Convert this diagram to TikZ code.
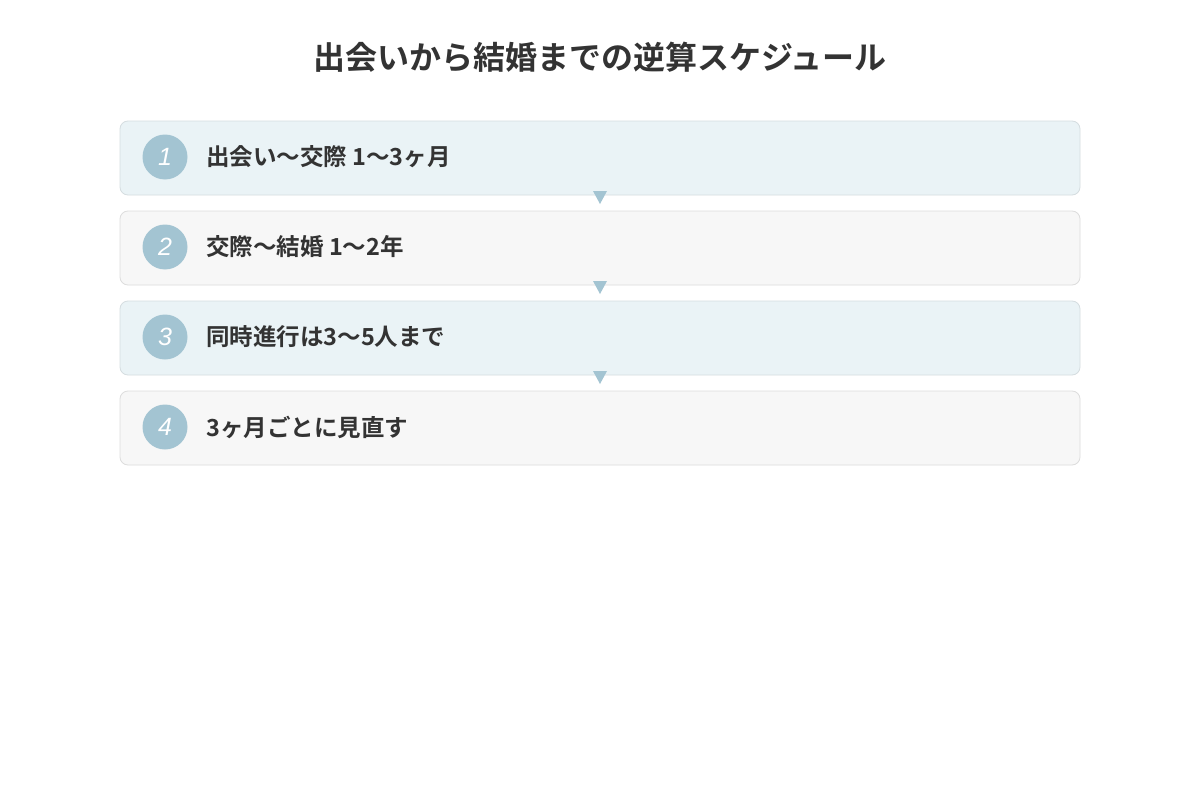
\documentclass[tikz,border=0pt]{standalone}
\usepackage{fontspec}
\setmainfont{Noto Sans CJK JP}
\newfontfamily\jpbold{Noto Sans CJK JP}[BoldFont={* Bold}]
\newfontfamily\numfont{Liberation Sans}
\definecolor{txt}{HTML}{333333}
\definecolor{accent}{HTML}{A3C4D2}
\definecolor{fillA}{HTML}{EAF3F6}
\definecolor{fillB}{HTML}{F7F7F7}
\definecolor{lineA}{HTML}{D5DDE0}
\definecolor{lineB}{HTML}{DDDDDD}
\begin{document}
\begin{tikzpicture}[x=1pt,y=-1pt,
  stepbox/.style={rounded corners=8pt, line width=0.8pt},
  boxA/.style={stepbox, fill=fillA, draw=lineA},
  boxB/.style={stepbox, fill=fillB, draw=lineB},
  badge/.style={circle, fill=accent, minimum size=45pt, inner sep=0pt, text=white, font=\numfont\itshape\fontsize{25}{25}\selectfont},
  label/.style={anchor=west, inner sep=0pt, text=txt, font=\jpbold\bfseries\fontsize{23.5}{24}\selectfont},
  tri/.style={fill=accent, draw=none}
]
\useasboundingbox (0,0) rectangle (1200,800);
\fill[white] (0,0) rectangle (1200,800);
\node[text=txt, font=\jpbold\bfseries\fontsize{32}{32}\selectfont] (title) at (600,57) {出会いから結婚までの逆算スケジュール};

\draw[boxA] (120,121) rectangle (1080,195);
\coordinate (b1) at (600,195);
\node[badge] (n1) at (165,157) {1};
\node[label] (t1) at (206,157) {出会い〜交際 1〜3ヶ月};

\draw[boxB] (120,211) rectangle (1080,285);
\coordinate (b2) at (600,285);
\node[badge] (n2) at (165,247) {2};
\node[label] (t2) at (206,247) {交際〜結婚 1〜2年};

\draw[boxA] (120,301) rectangle (1080,375);
\coordinate (b3) at (600,375);
\node[badge] (n3) at (165,337) {3};
\node[label] (t3) at (206,337) {同時進行は3〜5人まで};

\draw[boxB] (120,391) rectangle (1080,465);
\node[badge] (n4) at (165,427) {4};
\node[label] (t4) at (206,427) {3ヶ月ごとに見直す};

\foreach \c in {b1,b2,b3}{
  \fill[tri] ([xshift=-7pt,yshift=4pt]\c) -- ([xshift=7pt,yshift=4pt]\c) -- ([yshift=-9pt]\c) -- cycle;
}
\end{tikzpicture}
\end{document}
